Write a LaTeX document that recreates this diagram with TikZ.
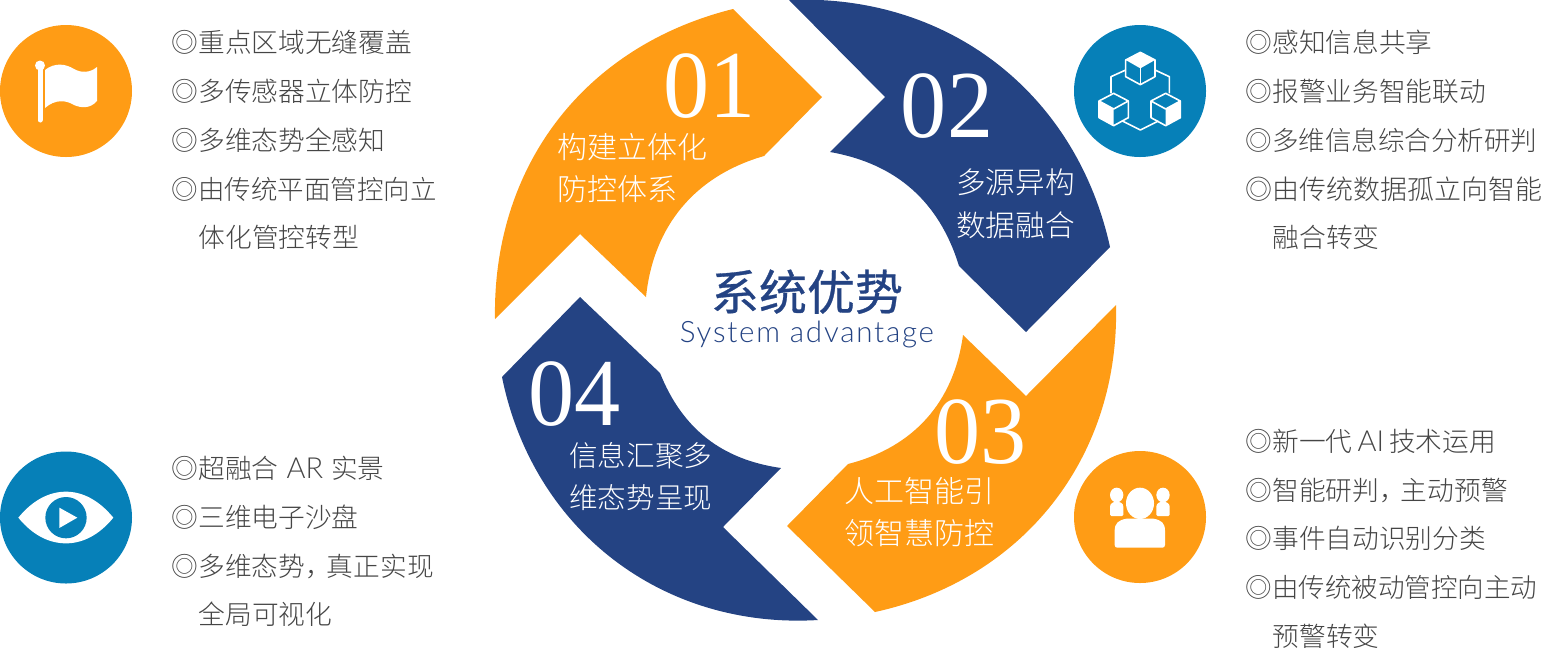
\documentclass[tikz,border=0pt]{standalone}
\usepackage{fontspec}
\setmainfont{Noto Sans CJK SC Light}
\newfontfamily\cjkm[FakeBold=0.6]{Noto Sans CJK SC}
\newfontfamily\numf{Liberation Serif}
\newfontfamily\engf[LetterSpace=6]{Lato Light}
\newfontfamily\engs{Lato Light}
\definecolor{oran}{HTML}{FF9C15}
\definecolor{navy}{HTML}{244383}
\definecolor{tealb}{HTML}{0680B8}
\definecolor{grayt}{HTML}{454545}
\newcommand{\fwc}{，\hspace{-5pt}}
\tikzset{
  petalo/.style={fill=oran,draw=none},
  petaln/.style={fill=navy,draw=none},
  badgeo/.style={circle,fill=oran,minimum size=132pt,inner sep=0pt,draw=none},
  badgeb/.style={circle,fill=tealb,minimum size=132pt,inner sep=0pt,draw=none},
  li/.style={anchor=base west,inner sep=0pt,text=grayt,font=\fontsize{26.7pt}{30pt}\selectfont},
  linar/.style={li,font=\fontsize{26.5pt}{30pt}\selectfont},
  lbl/.style={anchor=base west,inner sep=0pt,text=white,font=\fontsize{30pt}{34pt}\selectfont},
  num/.style={anchor=base,inner sep=0pt,text=white,xscale=0.96,font=\numf\fontsize{96pt}{100pt}\selectfont},
  iconw/.style={fill=white,draw=none},
  cubeline/.style={draw=white,line width=1.6pt,line join=round,fill=none}
}
\begin{document}
\begin{tikzpicture}[x=1pt,y=-1pt]
\useasboundingbox (0,0) rectangle (1541,649);
% petals
\path[petalo] (495,319) to[bend left=38.5] (733,9) -- (822,97) -- (764,156) to[bend right=34] (646,297) -- (580,234) -- cycle;
\path[petaln] (789,0) to[bend left=40] (1110,247) -- (1026,332) -- (959,266) to[bend right=31.5] (830,152) -- (885,97) -- cycle;
\path[petalo] (1116,305) to[bend left=39.5] (875,612) -- (787,526) -- (848,464) to[bend right=34] (963,335) -- (1026,396) -- cycle;
\path[petaln] (818,620) to[bend left=41] (502,377) -- (580,297) -- (660,373) to[bend right=30] (781,468) -- (723,527) -- cycle;
% numbers
\node[num] (n1) at (709.5,117) {01};
\node[num] (n2) at (947,137) {02};
\node[num] (n3) at (980.5,463) {03};
\node[num] (n4) at (574.5,425) {04};
% petal labels
\node[lbl] (p1a) at (557.5,158) {构建立体化};
\node[lbl] (p1b) at (557.5,200) {防控体系};
\node[lbl,font=\fontsize{29.6pt}{34pt}\selectfont] (p2a) at (956,193) {多源异构};
\node[lbl,font=\fontsize{29.6pt}{34pt}\selectfont] (p2b) at (956,236) {数据融合};
\node[lbl] (p3a) at (844,502) {人工智能引};
\node[lbl] (p3b) at (844,544) {领智慧防控};
\node[lbl,font=\fontsize{28.6pt}{34pt}\selectfont] (p4a) at (569,466) {信息汇聚多};
\node[lbl,font=\fontsize{28.6pt}{34pt}\selectfont] (p4b) at (569,508) {维态势呈现};
% centre
\node[anchor=base,inner sep=0pt,text=navy,font=\cjkm\fontsize{48pt}{50pt}\selectfont] (t1) at (807,310) {系统优势};
\node[anchor=base,inner sep=0pt,text=navy,font=\engf\fontsize{29.5pt}{34pt}\selectfont] (t2) at (807,342) {System advantage};
% badges
\node[badgeo] (b1) at (66,91) {};
\node[badgeb] (b2) at (1140,91) {};
\node[badgeb] (b3) at (66,517.5) {};
\node[badgeo] (b4) at (1140,517) {};
% flag icon
\path[iconw] (45,70) .. controls (55,62) and (66,64) .. (74,69) .. controls (81,73) and (90,73) .. (97,67) -- (97,101) .. controls (90,109) and (81,108) .. (74,105) .. controls (66,100) and (55,99) .. (45,108) -- cycle;
\draw[white,line width=5pt,line cap=round] (40,66) -- (40,120);
\fill[white] (40,65.5) circle (5);
% cubes icon
\begin{scope}[shift={(1060,10)},x=0.33333pt,y=-0.33333pt]
\path[cubeline] (197,180) -- (153,200) -- (153,250);
\path[cubeline] (285,180) -- (328,200) -- (328,250);
\path[cubeline] (187,333) -- (241,360) -- (295,333);
% top cube
\path[iconw] (241,127) -- (285,150) -- (241,175) -- (197,150) -- cycle;
\path[cubeline] (241,127) -- (285,150) -- (285,200) -- (241,224) -- (197,200) -- (197,150) -- cycle;
\path[cubeline] (241,175) -- (241,224);
% left cube
\path[iconw] (117,273) -- (161,297) -- (161,347) -- (117,323) -- cycle;
\path[cubeline] (161,250) -- (205,273) -- (205,323) -- (161,347) -- (117,323) -- (117,273) -- cycle;
\path[cubeline] (117,273) -- (161,297) -- (205,273);
% right cube
\path[iconw] (361,273) -- (317,297) -- (317,347) -- (361,323) -- cycle;
\path[cubeline] (317,250) -- (361,273) -- (361,323) -- (317,347) -- (273,323) -- (273,273) -- cycle;
\path[cubeline] (273,273) -- (317,297) -- (361,273);
\end{scope}
% eye icon
\begin{scope}[shift={(0,440)},x=0.33333pt,y=-0.33333pt]
\path[iconw] (55,233) .. controls (100,178) and (150,155) .. (198,155) .. controls (245,155) and (295,178) .. (340,233) .. controls (295,288) and (245,310) .. (198,310) .. controls (150,310) and (100,288) .. (55,233) -- cycle;
\fill[tealb] (198,233) circle (62);
\path[iconw] (178,203) -- (232,233) -- (178,264) -- cycle;
\end{scope}
% people icon
\begin{scope}[shift={(1060,440)},x=0.33333pt,y=-0.33333pt]
\fill[white] (240,190) ellipse [x radius=42,y radius=47];
\path[iconw] (164,272) .. controls (164,250) and (175,240) .. (200,236) -- (280,236) .. controls (305,240) and (315,250) .. (315,272) -- (315,315) .. controls (315,320) and (312,323) .. (307,323) -- (172,323) .. controls (167,323) and (164,320) .. (164,315) -- cycle;
\fill[white] (170,165) ellipse [x radius=20,y radius=22];
\path[iconw] (150,200) .. controls (150,190) and (160,185) .. (170,185) .. controls (180,185) and (190,190) .. (190,200) -- (190,224) .. controls (190,227) and (188,228) .. (186,228) -- (154,228) .. controls (152,228) and (150,227) .. (150,224) -- cycle;
\fill[white] (309,165) ellipse [x radius=20,y radius=22];
\path[iconw] (289,200) .. controls (289,190) and (299,185) .. (309,185) .. controls (319,185) and (329,190) .. (329,200) -- (329,224) .. controls (329,227) and (327,228) .. (325,228) -- (293,228) .. controls (291,228) and (289,227) .. (289,224) -- cycle;
\end{scope}
% top-left list
\node[li] (a1) at (171.5,52) {◎重点区域无缝覆盖};
\node[li] (a2) at (171.5,101) {◎多传感器立体防控};
\node[li] (a3) at (171.5,150) {◎多维态势全感知};
\node[linar] (a4) at (171.5,199) {◎由传统平面管控向立};
\node[li] (a5) at (198.5,247) {体化管控转型};
% top-right list
\node[li] (c1) at (1245.5,52) {◎感知信息共享};
\node[li] (c2) at (1245.5,101) {◎报警业务智能联动};
\node[linar] (c3) at (1245.5,150) {◎多维信息综合分析研判};
\node[li,font=\fontsize{27pt}{30pt}\selectfont] (c4) at (1245.5,199) {◎由传统数据孤立向智能};
\node[li] (c5) at (1272.5,247) {融合转变};
% bottom-left list
\node[li] (d1) at (171.5,478) {◎超融合\hspace{8pt}{\engs\fontsize{29pt}{30pt}\selectfont AR}\hspace{8pt}实景};
\node[li] (d2) at (171.5,527) {◎三维电子沙盘};
\node[li] (d3) at (171.5,576) {◎多维态势\fwc 真正实现};
\node[li] (d4) at (198.5,624) {全局可视化};
% bottom-right list
\node[li] (e1) at (1245.5,451) {◎新一代\hspace{5pt}{\engs\fontsize{29pt}{30pt}\selectfont AI}\hspace{5pt}技术运用};
\node[li] (e2) at (1245.5,500) {◎智能研判\fwc 主动预警};
\node[li] (e3) at (1245.5,548) {◎事件自动识别分类};
\node[linar] (e4) at (1245.5,597) {◎由传统被动管控向主动};
\node[li] (e5) at (1272.5,646) {预警转变};
\end{tikzpicture}
\end{document}
